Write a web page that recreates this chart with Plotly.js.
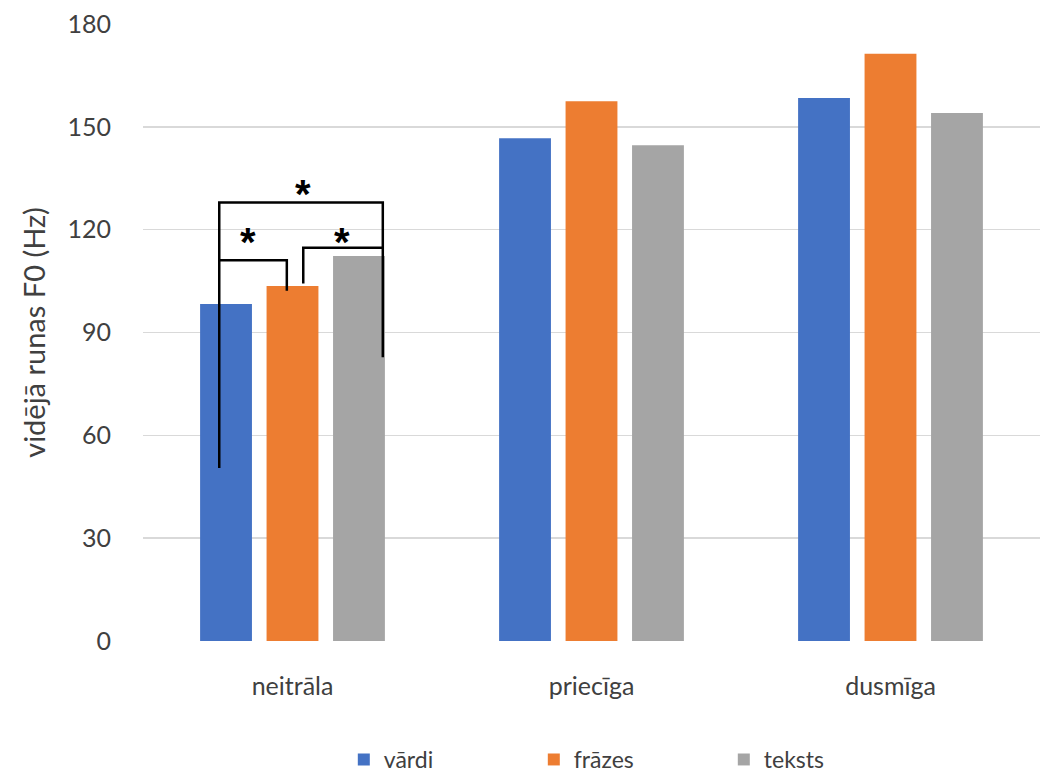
<!DOCTYPE html>
<html>
<head>
<meta charset="utf-8">
<script src="https://cdn.plot.ly/plotly-3.0.1.min.js"></script>
<style>html,body{margin:0;padding:0;background:#fff;}#chart{width:1045px;height:775px;}</style>
</head>
<body>
<div id="chart"></div>
<script>
const categories = ['neitrāla', 'priecīga', 'dusmīga'];
const seriesNames = ['vārdi', 'frāzes', 'teksts'];
const vardi = [98.3, 146.7, 158.4];
const frazes = [103.6, 157.5, 171.3];
const teksts = [112.3, 144.6, 154.0];
const colors = ['#4472c4', '#ed7d31', '#a5a5a5'];
const yTicks = [0, 30, 60, 90, 120, 150, 180];

// significance brackets (x in category units, y in Hz)
const bracketPaths = [
  {x: [-0.245, -0.245, 0.302, 0.302], y: [50.5, 127.9, 127.9, 82.8]},
  {x: [-0.245, -0.245, -0.019, -0.019], y: [111.1, 111.1, 111.1, 102.2]},
  {x: [0.036, 0.036, 0.302, 0.302], y: [104.3, 114.7, 114.7, 114.7]}
];
const starX = [0.036, -0.149, 0.166];
const starY = [130.5, 116.5, 116.5];

const font = 'Lato, "Open Sans", sans-serif';
const vals = [vardi, frazes, teksts];
const traces = seriesNames.map((n, i) => ({
  type: 'bar', name: n, x: categories, y: vals[i],
  marker: {color: colors[i]}
}));

const shapes = bracketPaths.map(b => ({
  type: 'path', xref: 'x', yref: 'y',
  path: 'M' + b.x.map((xv, k) => xv + ',' + b.y[k]).join(' L'),
  line: {color: '#000', width: 2.5}
}));
const annotations = starX.map((xv, i) => ({
  x: xv, y: starY[i], xref: 'x', yref: 'y', text: '<b>*</b>', showarrow: false,
  font: {family: 'Arial, sans-serif', size: 40, color: '#000'}
}));

const layout = {
  width: 1045, height: 775,
  margin: {l: 143, r: 5, t: 24, b: 134},
  paper_bgcolor: '#fff', plot_bgcolor: '#fff',
  font: {family: font, size: 24, color: '#404040'},
  barmode: 'group', bargap: 0.333, bargroupgap: 0.22,
  xaxis: {
    type: 'category', showgrid: false, zeroline: false, showline: false,
    ticks: '', tickfont: {size: 25, color: '#404040'}, ticklabelstandoff: 28
  },
  yaxis: {
    range: [0, 180], tickvals: yTicks, ticktext: yTicks.map(String),
    showgrid: true, gridcolor: '#d9d9d9', gridwidth: 1.5,
    zeroline: false, showline: false, ticks: '',
    tickfont: {size: 25, color: '#404040'}, ticklabelstandoff: 31,
    title: {text: 'vidējā runas F0 (Hz)', font: {size: 29, color: '#404040'}, standoff: 13}
  },
  legend: {
    orientation: 'h', x: 0.329, xanchor: 'left', xref: 'container',
    y: 0.02, yanchor: 'middle', yref: 'container',
    font: {size: 23, color: '#404040'}, entrywidth: 145, entrywidthmode: 'pixels',
    itemwidth: 30, traceorder: 'normal'
  },
  shapes: shapes,
  annotations: annotations
};

Plotly.newPlot('chart', traces, layout, {displayModeBar: false, staticPlot: true});
</script>
</body>
</html>
